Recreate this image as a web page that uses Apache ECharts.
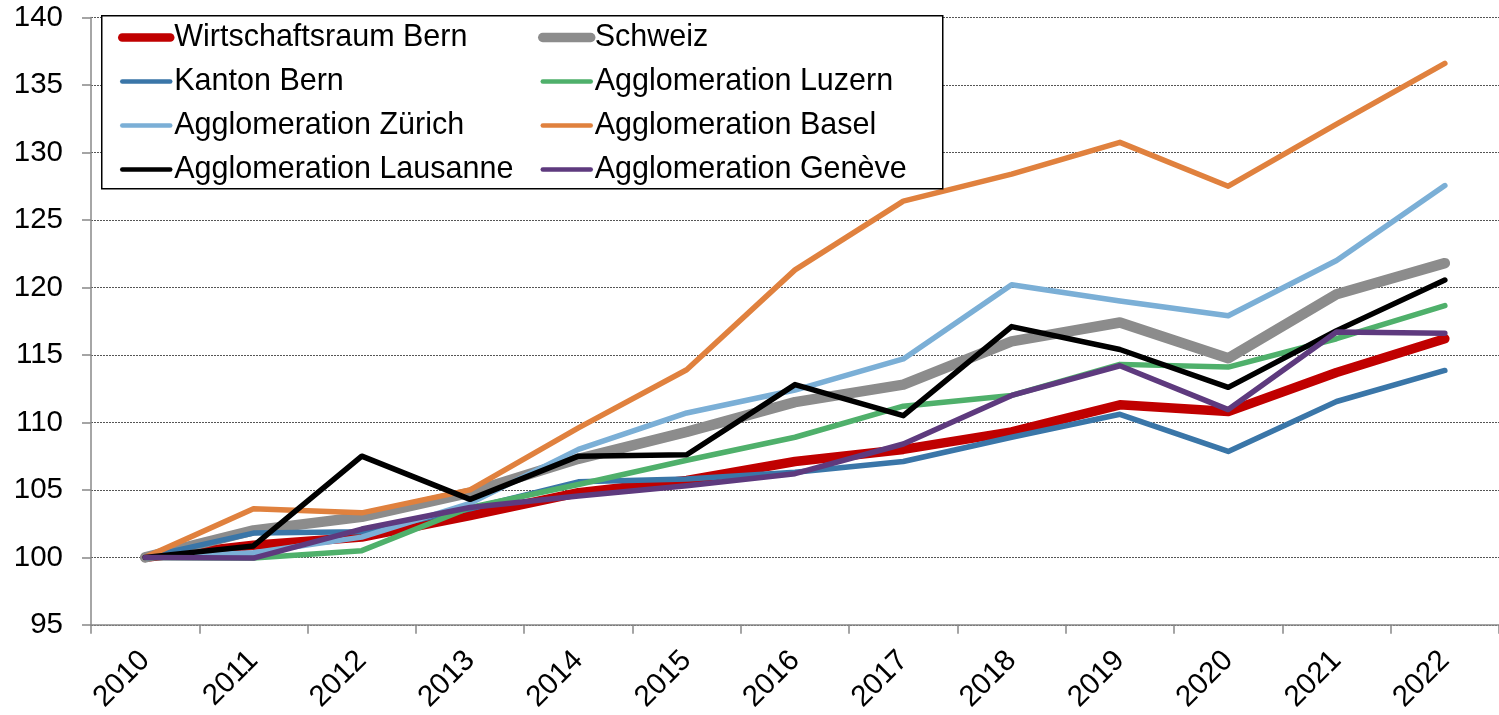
<!DOCTYPE html>
<html>
<head>
<meta charset="utf-8">
<script src="https://cdn.jsdelivr.net/npm/echarts@6/dist/echarts.min.js"></script>
<style>
html,body{margin:0;padding:0;background:#fff;}
#chart{width:1499px;height:715px;}
</style>
</head>
<body>
<div id="chart"></div>
<script>
const years = ['2010','2011','2012','2013','2014','2015','2016','2017','2018','2019','2020','2021','2022'];
const wirtschaftsraumBern = [100, 100.9, 101.5, 103.1, 104.8, 105.7, 107.1, 108.0, 109.3, 111.3, 110.8, 113.7, 116.2];
const schweiz            = [100, 102.0, 103.0, 104.8, 107.3, 109.3, 111.5, 112.8, 116.0, 117.4, 114.75, 119.5, 121.8];
const kantonBern         = [100, 101.8, 101.9, 103.6, 105.6, 105.8, 106.3, 107.1, 108.9, 110.6, 107.85, 111.55, 113.85];
const luzern             = [100, 99.95, 100.5, 103.7, 105.4, 107.2, 108.9, 111.2, 112.0, 114.3, 114.1, 116.2, 118.65];
const zuerich            = [100, 100.35, 101.5, 104.0, 108.0, 110.7, 112.4, 114.7, 120.2, 119.0, 117.9, 122.0, 127.55];
const basel              = [100, 103.6, 103.3, 105.0, 109.6, 113.9, 121.3, 126.4, 128.4, 130.75, 127.5, 132.1, 136.6];
const lausanne           = [100, 100.85, 107.5, 104.3, 107.5, 107.6, 112.8, 110.5, 117.1, 115.4, 112.6, 116.8, 120.55];
const geneve             = [100, 99.95, 102.1, 103.7, 104.55, 105.3, 106.2, 108.4, 112.0, 114.2, 110.95, 116.7, 116.6];

const names = ['Wirtschaftsraum Bern','Schweiz','Kanton Bern','Agglomeration Luzern','Agglomeration Zürich','Agglomeration Basel','Agglomeration Lausanne','Agglomeration Genève'];
const values = [wirtschaftsraumBern, schweiz, kantonBern, luzern, zuerich, basel, lausanne, geneve];
const colors = ['#C00000','#8C8C8C','#3A76A8','#4FB06B','#7BAFD6','#E0813E','#000000','#5E3A7E'];
const widths = [9.5, 10.5, 5.5, 5.5, 5.5, 5.5, 5.5, 5.5];

const FONT = 'Liberation Sans';
const chart = echarts.init(document.getElementById('chart'), null, {renderer:'canvas'});

const series = names.map((n,i)=>({
  name:n, type:'line', data:values[i], symbol:'none', showSymbol:false,
  lineStyle:{color:colors[i], width:widths[i], cap:'round', join:'round'},
  itemStyle:{color:colors[i]},
  emphasis:{disabled:true}, animation:false
}));

function legendItem(i){
  return {name:names[i], lineStyle:{width:widths[i] - 1, color:colors[i], cap:'round'}, itemStyle:{opacity:0}};
}

const legendCommon = {
  orient:'vertical', itemWidth:48, itemHeight:14, itemGap:13,
  textStyle:{fontFamily:FONT, fontSize:30.5, color:'#000', padding:[0,0,0,-1], lineHeight:30},
  padding:0, z:10, selectedMode:false
};

chart.setOption({
  animation:false,
  textStyle:{fontFamily:FONT},
  color:colors,
  grid:{left:91, top:17.5, width:1417, height:609},
  xAxis:{
    type:'category', data:years, boundaryGap:true,
    axisLine:{lineStyle:{color:'#888', width:1.5}},
    axisTick:{show:true, length:9, lineStyle:{color:'#888', width:1.5}},
    axisLabel:{rotate:45, fontSize:29.5, color:'#000', fontFamily:FONT, margin:31, interval:0},
    splitLine:{show:false}
  },
  yAxis:{
    type:'value', min:95, max:140, interval:5,
    axisLine:{show:true, lineStyle:{color:'#888', width:1.5}},
    axisTick:{show:true, length:9, lineStyle:{color:'#888', width:1.5}},
    axisLabel:{fontSize:29.5, color:'#000', fontFamily:FONT, margin:28},
    splitLine:{show:true, lineStyle:{color:'#555', width:1, type:[2,1]}}
  },
  graphic:[{type:'rect', left:101, top:15, shape:{width:841, height:173}, style:{fill:'#fff', stroke:'#000', lineWidth:1.5}, z:5}],
  legend:[
    Object.assign({left:118, top:22, data:[0,2,4,6].map(legendItem)}, legendCommon),
    Object.assign({left:538, top:22, data:[1,3,5,7].map(legendItem)}, legendCommon)
  ],
  series:series
});
</script>
</body>
</html>
